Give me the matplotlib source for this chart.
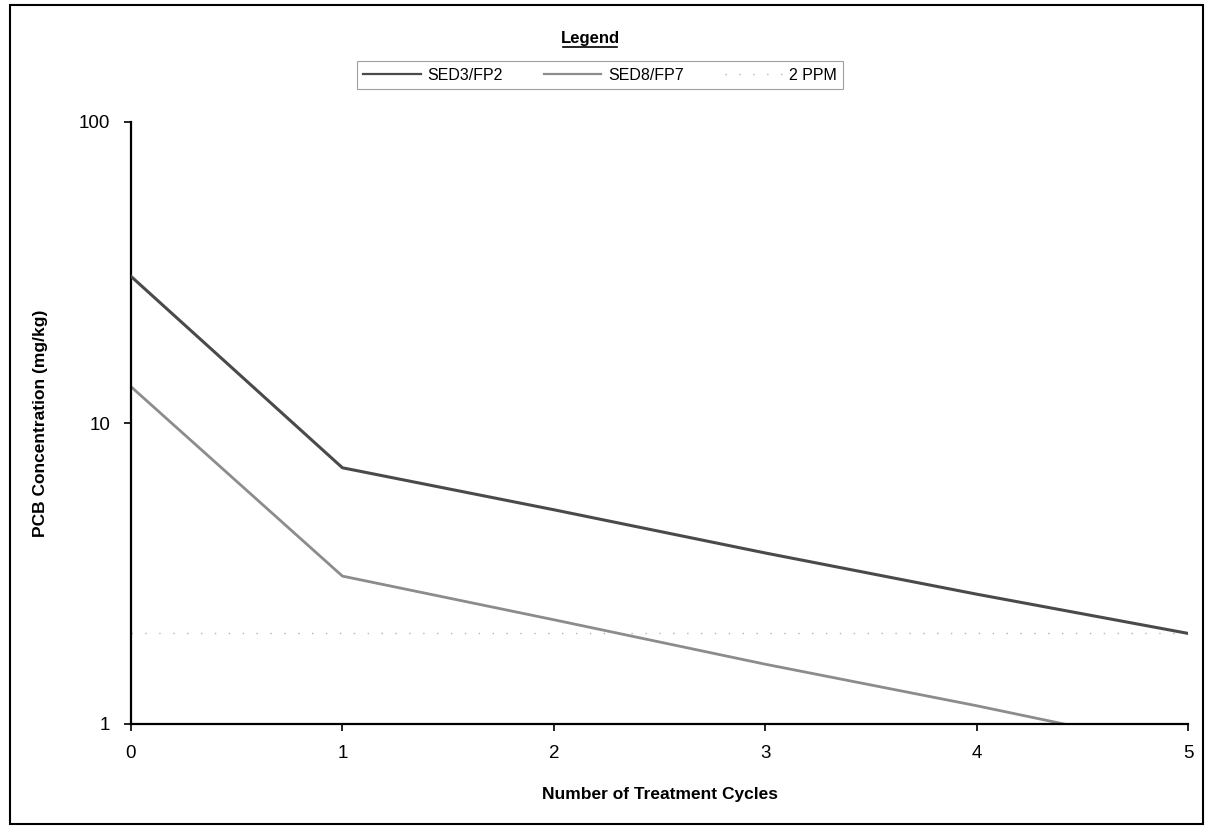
import numpy as np
import matplotlib
import matplotlib.pyplot as plt
from matplotlib.lines import Line2D
from matplotlib.patches import Rectangle

matplotlib.use("Agg")
plt.rcParams["font.family"] = ["Liberation Sans", "DejaVu Sans"]

cycles = np.array([0, 1, 2, 3, 4, 5])

sed3_fp2 = np.array([30.7, 7.1, 5.15, 3.7, 2.7, 2.0])
sed8_fp7 = np.array([13.2, 3.1, 2.22, 1.58, 1.15, 0.82])
limit_ppm = np.array([2, 2, 2, 2, 2, 2])

x_ticks = [0, 1, 2, 3, 4, 5]
y_ticks = [1, 10, 100]
y_tick_labels = ["1", "10", "100"]

# =----------------------------------------------------------------------------

W, H = 1206, 827
fig = plt.figure(figsize=(W / 100, H / 100), dpi=100)
ax = fig.add_axes([131 / W, 1 - 724 / H, (1188 - 131) / W, (724 - 122) / H])

ax.plot(cycles, limit_ppm, color="#b5b5b5", lw=1.0, ls=(0, (1, 9)), label="2 PPM", zorder=1)
ax.plot(cycles, sed8_fp7, color="#8c8c8c", lw=2.0, label="SED8/FP7", zorder=2)
ax.plot(cycles, sed3_fp2, color="#4a4a4a", lw=2.2, label="SED3/FP2", zorder=3)

ax.set_yscale("log")
ax.set_xlim(0, 5)
ax.set_ylim(1, 100)
ax.set_xticks(x_ticks)
ax.set_yticks(y_ticks)
ax.set_yticklabels(y_tick_labels)
ax.yaxis.set_minor_locator(matplotlib.ticker.NullLocator())
ax.tick_params(axis="both", direction="out", length=5, width=1.2,
               labelsize=13.5, pad=10, color="black")

for side in ["top", "right"]:
    ax.spines[side].set_visible(False)
for side in ["left", "bottom"]:
    ax.spines[side].set_linewidth(1.6)

ax.set_xlabel("Number of Treatment Cycles", fontsize=12.5, fontweight="bold", labelpad=18)
ax.set_ylabel("PCB Concentration (mg/kg)", fontsize=12.5, fontweight="bold", labelpad=22)

# legend
handles = [
    Line2D([], [], color="#4a4a4a", lw=1.6),
    Line2D([], [], color="#8c8c8c", lw=1.6),
    Line2D([], [], color="#b5b5b5", lw=1.0, ls=(0, (1, 9))),
]
labels = ["SED3/FP2", "SED8/FP7", "2 PPM"]
leg = fig.legend(handles, labels, ncol=3, loc="center",
                 bbox_to_anchor=(600 / W, 1 - 75 / H), fontsize=11.5,
                 frameon=True, fancybox=False, handlelength=3.6,
                 handletextpad=0.4, columnspacing=2.6, borderpad=0.4,
                 borderaxespad=0)
leg.get_frame().set_edgecolor("#888888")
leg.get_frame().set_linewidth(0.8)

fig.text(590 / W, 1 - 38 / H, "Legend", ha="center", va="center",
         fontsize=12, fontweight="bold")
fig.add_artist(Line2D([563 / W, 617 / W], [1 - 47 / H, 1 - 47 / H],
                      color="black", lw=1.2, transform=fig.transFigure))

# outer frame
fig.add_artist(Rectangle((10 / W, 3 / H), (1203 - 10) / W, (822 - 3) / H,
                         transform=fig.transFigure, fill=False,
                         edgecolor="black", lw=1.5))

fig.savefig("out.png", dpi=100)
